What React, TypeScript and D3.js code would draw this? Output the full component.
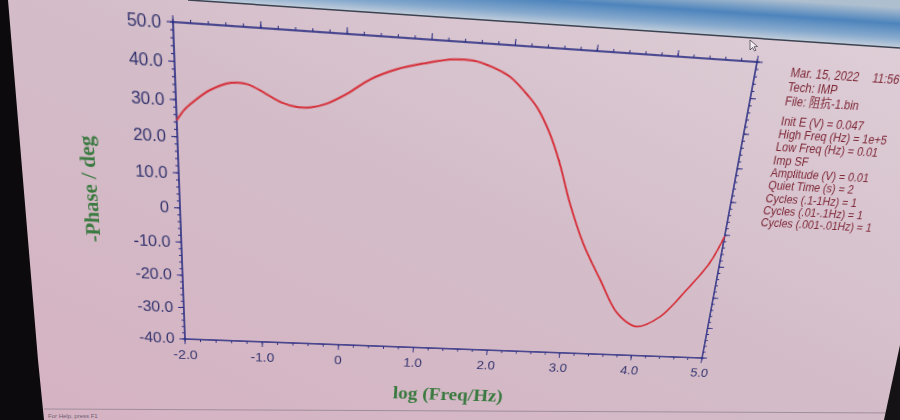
import React from "react";
import * as d3 from "d3";

// Bode phase curve
const logFreq = [-2.0, -1.9, -1.8, -1.6, -1.35, -1.15, -0.95, -0.75, -0.58, -0.42, -0.22, 0.02, 0.29, 0.6, 0.92, 1.27, 1.52, 1.74, 1.97, 2.22, 2.35, 2.53, 2.7, 2.89, 3.13, 3.42, 3.72, 4.01, 4.31, 4.61, 4.86, 5.0];
const phase = [24.5, 27.6, 29.7, 33.1, 35.4, 35.2, 33.1, 30.9, 30.0, 30.1, 31.4, 34.4, 38.6, 41.7, 43.7, 45.3, 45.3, 44.0, 41.7, 36.8, 33.6, 27.0, 18.6, 7.2, -4.7, -15.7, -26.3, -30.3, -26.8, -17.8, -9.0, -0.4];

const xTicks = [-2, -1, 0, 1, 2, 3, 4, 5];
const xTickLabels = ["-2.0", "-1.0", "0", "1.0", "2.0", "3.0", "4.0", "5.0"];
const yTicks = [50, 40, 30, 20, 10, 0, -10, -20, -30, -40];
const yTickLabels = ["50.0", "40.0", "30.0", "20.0", "10.0", "0", "-10.0", "-20.0", "-30.0", "-40.0"];

const infoTop = ["Mar. 15, 2022", "Tech: IMP", "File: 阻抗-1.bin"];
const infoTime = "11:56";
const infoParams = [
  "Init E (V) = 0.047",
  "High Freq (Hz) = 1e+5",
  "Low Freq (Hz) = 0.01",
  "Imp SF",
  "Amplitude (V) = 0.01",
  "Quiet Time (s) = 2",
  "Cycles (.1-1Hz) = 1",
  "Cycles (.01-.1Hz) = 1",
  "Cycles (.001-.01Hz) = 1",
];

// flat plot box (before the photo's perspective is applied)
const FX0 = 120, FY0 = 40, PW = 580, PH = 320;
// where the plot frame sits in the photo: TL, TR, BR, BL
const frame = [[173, 22], [757, 62], [702, 358], [185, 339]];

const navy = "#2a2c82";
const labelCol = "#34346e";
const green = "#3a7a40";
const maroon = "#7d2636";

function squareToQuad(q) {
  const [[x0, y0], [x1, y1], [x2, y2], [x3, y3]] = q;
  const dx1 = x1 - x2, dx2 = x3 - x2, dx3 = x0 - x1 + x2 - x3;
  const dy1 = y1 - y2, dy2 = y3 - y2, dy3 = y0 - y1 + y2 - y3;
  const den = dx1 * dy2 - dx2 * dy1;
  const g = (dx3 * dy2 - dx2 * dy3) / den;
  const h = (dx1 * dy3 - dx3 * dy1) / den;
  return [
    [x1 - x0 + g * x1, x3 - x0 + h * x3, x0],
    [y1 - y0 + g * y1, y3 - y0 + h * y3, y0],
    [g, h, 1],
  ];
}

function mul3(A, B) {
  return A.map((row) => [0, 1, 2].map((j) => row[0] * B[0][j] + row[1] * B[1][j] + row[2] * B[2][j]));
}

function inv3(m) {
  const [[a, b, c], [d, e, f], [g, h, i]] = m;
  const A = e * i - f * h, B = -(d * i - f * g), C = d * h - e * g;
  const det = a * A + b * B + c * C;
  return [
    [A / det, -(b * i - c * h) / det, (b * f - c * e) / det],
    [B / det, (a * i - c * g) / det, -(a * f - c * d) / det],
    [C / det, -(a * h - b * g) / det, (a * e - b * d) / det],
  ];
}

const M = mul3(squareToQuad(frame), [
  [1 / PW, 0, -FX0 / PW],
  [0, 1 / PH, -FY0 / PH],
  [0, 0, 1],
]);
const Minv = inv3(M);
const toFlat = (px, py) => {
  const X = Minv[0][0] * px + Minv[0][1] * py + Minv[0][2];
  const Y = Minv[1][0] * px + Minv[1][1] * py + Minv[1][2];
  const W = Minv[2][0] * px + Minv[2][1] * py + Minv[2][2];
  return [X / W, Y / W];
};
const cssMatrix = `matrix3d(${M[0][0]},${M[1][0]},0,${M[2][0]},${M[0][1]},${M[1][1]},0,${M[2][1]},0,0,1,0,${M[0][2]},${M[1][2]},0,${M[2][2]})`;

export default function App() {
  const x = d3.scaleLinear().domain([-2, 5]).range([0, PW]);
  const y = d3.scaleLinear().domain([-40, 50]).range([PH, 0]);

  const pts = logFreq.map((f, i) => [f, phase[i]]);
  const line = d3.line().x((d) => x(d[0])).y((d) => y(d[1])).curve(d3.curveCatmullRom.alpha(0.5));

  const xMinor = d3.range(-2, 5.001, 0.2);
  const yMinor = d3.range(-40, 50.001, 2);

  const [yTx, yTy] = toFlat(92, 190);
  const [xTx, xTy] = toFlat(448, 396);
  const [ix, iy] = toFlat(790, 77);

  const serif = "'Liberation Serif', 'DejaVu Serif', serif";
  const sans = "'Liberation Sans', Arial, 'Noto Sans CJK SC', sans-serif";

  return (
    <div style={{ position: "fixed", left: 0, top: 0, width: 900, height: 420, overflow: "hidden" }}>
      <svg width={900} height={420} style={{ position: "absolute", left: 0, top: 0 }}>
        <defs>
          <linearGradient id="screen" x1="1" y1="0" x2="0" y2="1">
            <stop offset="0" stopColor="#dfd0d8" />
            <stop offset="0.5" stopColor="#d3bcc8" />
            <stop offset="1" stopColor="#d6b2c2" />
          </linearGradient>
          <linearGradient id="titlebar" gradientUnits="userSpaceOnUse" x1={900} y1={48} x2={902.7} y2={8}>
            <stop offset="0" stopColor="#c3cfdc" />
            <stop offset="0.25" stopColor="#86a9cd" />
            <stop offset="0.6" stopColor="#4d84bc" />
            <stop offset="1" stopColor="#aebfd0" />
          </linearGradient>
        </defs>
        <rect width={900} height={420} fill="url(#screen)" />
        <polygon points="188,0 900,0 900,48" fill="url(#titlebar)" />
        <line x1={188} y1={0} x2={900} y2={48} stroke="#3c4250" strokeWidth={1.5} />
        <line x1={44} y1={409} x2={900} y2={413} stroke="#a08e9c" />
        <text x={48} y={418} fontSize={6} fill="#6c6070" fontFamily={sans}>For Help, press F1</text>
        <polygon points="0,0 8,0 23,180 38,360 44,420 0,420" fill="#0c0a0c" />
        <polygon points="900,345 900,420 884,420" fill="#151215" />
        {/* mouse pointer */}
        <path d="M750,40 L750,50 L752.5,47.5 L754.5,51 L756,50.2 L754,46.8 L757.5,46.5 Z" fill="#f4eef2" stroke="#4a4450" strokeWidth={0.8} />
      </svg>

      <svg
        width={1000}
        height={520}
        style={{ position: "absolute", left: 0, top: 0, overflow: "visible", transformOrigin: "0 0", transform: cssMatrix }}
      >
        <g transform={`translate(${FX0},${FY0})`}>
          {/* minor ticks */}
          {xMinor.map((t, i) => (
            <g key={"xm" + i} stroke={navy} strokeWidth={1}>
              <line x1={x(t)} x2={x(t)} y1={PH} y2={PH + 3} />
              <line x1={x(t)} x2={x(t)} y1={0} y2={-3} />
            </g>
          ))}
          {yMinor.map((t, i) => (
            <g key={"ym" + i} stroke={navy} strokeWidth={1}>
              <line x1={0} x2={-3} y1={y(t)} y2={y(t)} />
              <line x1={PW} x2={PW + 3} y1={y(t)} y2={y(t)} />
            </g>
          ))}
          {/* major ticks and labels */}
          {xTicks.map((t, i) => (
            <g key={"x" + i}>
              <line x1={x(t)} x2={x(t)} y1={PH} y2={PH + 6} stroke={navy} />
              <line x1={x(t)} x2={x(t)} y1={0} y2={-6} stroke={navy} />
              <text x={x(t)} y={PH + 23} textAnchor="middle" fontSize={15} fill={labelCol} fontFamily={sans}>
                {xTickLabels[i]}
              </text>
            </g>
          ))}
          {yTicks.map((t, i) => (
            <g key={"y" + i}>
              <line x1={0} x2={-6} y1={y(t)} y2={y(t)} stroke={navy} />
              <line x1={PW} x2={PW + 6} y1={y(t)} y2={y(t)} stroke={navy} />
              <text x={-11} y={y(t) + 5.5} textAnchor="end" fontSize={16.5} fill={labelCol} fontFamily={sans}>
                {yTickLabels[i]}
              </text>
            </g>
          ))}
          <rect x={0} y={0} width={PW} height={PH} fill="none" stroke={navy} strokeWidth={1.6} />
          <path d={line(pts)} fill="none" stroke="#d5323c" strokeWidth={2} />
        </g>

        <text
          transform={`translate(${yTx},${yTy}) rotate(-90)`}
          textAnchor="middle"
          dominantBaseline="middle"
          fontSize={21}
          fontWeight="bold"
          fill={green}
          fontFamily={serif}
        >
          -Phase / deg
        </text>
        <text x={xTx} y={xTy} textAnchor="middle" dominantBaseline="middle" fontSize={22} fontWeight="bold" fill={green} fontFamily={serif}>
          log (Freq/Hz)
        </text>

        <g fontFamily={sans} fontSize={12} fill={maroon}>
          {infoTop.map((s, i) => (
            <text key={"it" + i} x={ix} y={iy + i * 13.8}>{s}</text>
          ))}
          <text x={ix + 88} y={iy}>{infoTime}</text>
          {infoParams.map((s, i) => (
            <text key={"ip" + i} x={ix} y={iy + 2 * 13.8 + 20 + i * 13.3}>{s}</text>
          ))}
        </g>
      </svg>
    </div>
  );
}
